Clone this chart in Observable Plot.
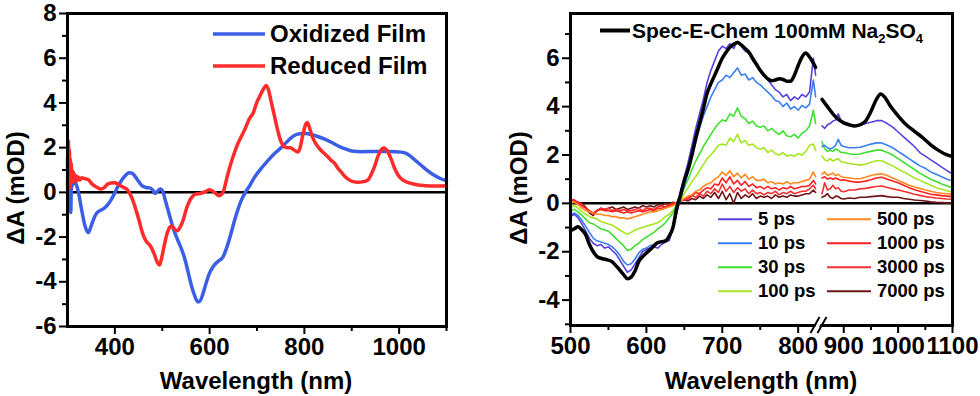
<!DOCTYPE html>
<html><head><meta charset="utf-8">
<script src="https://cdn.jsdelivr.net/npm/d3@7"></script>
<script src="https://cdn.jsdelivr.net/npm/@observablehq/plot@0.6"></script>
<style>
body{margin:0;background:#fff;}
#wrap{position:relative;width:980px;height:396px;overflow:hidden;background:#fff;font-family:"Liberation Sans",Arial,sans-serif;font-weight:bold;color:#000}
.panel{position:absolute;top:0}
.lbl{position:absolute;font-size:24px;font-weight:bold;white-space:nowrap;line-height:1}
.leg{position:absolute;display:flex;align-items:center;white-space:nowrap;font-weight:bold}
.leg svg{display:block}
sub{font-size:13px;vertical-align:-5px;line-height:0}
</style></head>
<body><div id="wrap"></div>
<script>
// ---------------- LEFT PANEL DATA ----------------
const oxWl = [300,302,303,305,306,307,308,311,316,322,330,337,344,350,357,363,370,377,385,391,398,406,413,420,430,437,443,450,457,466,474,480,485,490,496,501,507,515,523,532,540,548,555,562,568,575,580,585,592,600,608,617,628,638,645,652,660,667,677,686,694,708,722,736,751,765,777,790,804,815,828,843,858,873,888,900,920,950,980,1004,1015,1025,1036,1047,1060,1074,1087,1100];
const oxVal = [0.3,1.8,0.5,1.0,-0.5,-0.9,0.2,0.35,0.45,0.1,-0.8,-1.5,-1.8,-1.5,-1.1,-0.9,-0.8,-0.72,-0.55,-0.37,-0.1,0.25,0.5,0.7,0.88,0.85,0.7,0.5,0.3,0.22,0.2,0.1,-0.05,0.05,0.15,0.05,-0.4,-1.0,-1.6,-2.1,-2.5,-3.0,-3.6,-4.2,-4.6,-4.9,-4.85,-4.6,-4.1,-3.6,-3.3,-3.1,-2.9,-2.35,-1.85,-1.3,-0.75,-0.35,0.05,0.35,0.65,1.05,1.4,1.72,2.0,2.3,2.52,2.62,2.63,2.58,2.5,2.38,2.23,2.06,1.93,1.85,1.82,1.83,1.83,1.8,1.74,1.6,1.4,1.2,0.97,0.76,0.62,0.52];
const redWl = [300,301,302,303,304,305,306,307,308,309,310,311,313,315,317,319,322,326,330,335,340,345,350,356,363,370,377,385,392,399,406,413,420,425,430,437,444,451,458,465,475,483,490,494,498,503,510,516,520,526,532,538,544,550,556,563,570,580,590,599,606,613,620,625,630,637,645,652,659,667,675,684,692,700,707,713,719,724,730,737,744,750,757,764,771,778,786,791,797,803,806,810,815,822,830,840,849,857,864,870,878,885,893,903,913,925,934,941,948,955,962,968,975,983,990,997,1005,1014,1025,1040,1055,1075,1100];
const redVal = [1.5,0.3,2.3,0.4,1.9,0.2,1.5,0.4,1.3,0.5,1.0,0.45,0.9,0.5,0.75,0.5,0.7,0.55,0.65,0.62,0.6,0.55,0.42,0.3,0.22,0.15,0.2,0.37,0.42,0.43,0.38,0.28,0.2,0.15,0.0,-0.3,-0.75,-1.25,-1.8,-2.15,-2.4,-2.75,-3.15,-3.25,-3.0,-2.5,-1.85,-1.55,-1.5,-1.65,-1.72,-1.55,-1.25,-0.8,-0.45,-0.2,-0.08,-0.05,0.02,0.12,0.06,-0.05,-0.15,-0.1,0.1,0.7,1.3,1.75,2.15,2.5,2.85,3.3,3.55,4.05,4.35,4.6,4.78,4.6,4.05,3.4,2.75,2.3,2.05,2.0,2.0,1.9,1.8,2.0,2.6,3.05,3.12,2.95,2.6,2.25,2.0,1.78,1.6,1.42,1.3,1.1,0.9,0.72,0.58,0.48,0.45,0.48,0.55,0.8,1.15,1.6,1.9,1.98,1.85,1.5,1.1,0.8,0.6,0.48,0.4,0.33,0.3,0.28,0.3];

// ---------------- RIGHT PANEL DATA ----------------
const delays = ["5 ps","10 ps","30 ps","100 ps","500 ps","1000 ps","3000 ps","7000 ps"];
const delayColors = ["#5b40e0","#3a80f0","#40e030","#a6e620","#ff8a20","#ff2020","#f53030","#701515"];

const wlLeft = [500,505,510,515,520,525,530,535,540,545,
  550,555,560,565,570,575,580,585,590,595,
  600,605,610,615,620,625,630,635,640,645,
  650,655,660,665,670,675,680,685,690,695,
  700,705,710,715,720,725,730,735,740,745,
  750,755,760,765,770,775,780,785,790,795,
  800,805,810,815,820,823];
const wlRight = [860,865,870,875,880,885,890,895,900,910,920,930,940,950,960,970,980,990,1000,1010,1020,1030,1040,1050,1060,1070,1080,1090,1100];

const ta5L = [-0.55,-0.45,-0.6,-0.85,-1.15,-1.45,-1.65,-1.75,-1.7,-1.85,
  -1.8,-1.95,-2.1,-2.35,-2.6,-2.85,-2.75,-2.5,-2.25,-2.0,
  -1.9,-1.85,-1.8,-1.85,-1.7,-1.6,-1.55,-1.05,-0.4,0.5,
  1.1,1.7,2.4,3.1,3.7,4.3,5.0,5.5,5.9,6.3,
  6.5,6.4,6.6,6.4,6.7,6.5,6.3,6.2,5.9,5.7,
  5.5,5.3,5.1,4.9,4.7,4.6,4.4,4.5,4.25,4.4,
  4.3,4.5,4.4,4.6,6.0,5.3];
const ta10L = [-0.5,-0.4,-0.5,-0.7,-0.95,-1.2,-1.45,-1.55,-1.6,-1.65,
  -1.7,-1.8,-1.95,-2.15,-2.4,-2.55,-2.5,-2.3,-2.05,-1.9,
  -1.85,-1.75,-1.7,-1.6,-1.6,-1.55,-1.45,-1.0,-0.4,0.2,
  0.7,1.3,2.0,2.5,3.1,3.6,4.0,4.4,4.7,5.0,
  5.1,5.3,5.2,5.4,5.6,5.3,5.35,5.1,5.2,5.0,
  4.9,4.75,4.6,4.45,4.25,4.2,4.0,4.15,3.9,4.0,
  3.85,4.05,3.95,4.1,5.1,4.4];
const ta30L = [-0.3,-0.25,-0.35,-0.5,-0.65,-0.8,-0.85,-0.95,-1.05,-1.1,
  -1.15,-1.3,-1.45,-1.6,-1.75,-1.95,-1.9,-1.75,-1.65,-1.5,
  -1.4,-1.3,-1.2,-1.05,-0.95,-0.8,-0.6,-0.4,0.0,0.3,
  0.65,1.0,1.4,1.75,2.05,2.35,2.6,2.85,3.1,3.3,
  3.45,3.4,3.7,3.6,3.95,3.6,3.5,3.3,3.4,3.2,
  3.15,3.2,3.0,3.1,2.95,2.85,3.0,2.8,2.75,2.85,
  2.7,2.9,3.0,3.2,3.85,3.3];
const ta100L = [-0.15,-0.1,-0.2,-0.35,-0.45,-0.55,-0.6,-0.65,-0.75,-0.8,
  -0.85,-0.9,-1.0,-1.1,-1.2,-1.28,-1.2,-1.1,-1.05,-1.0,
  -0.95,-0.9,-0.85,-0.8,-0.7,-0.55,-0.45,-0.3,-0.1,0.15,
  0.4,0.65,0.9,1.1,1.35,1.6,1.85,2.0,2.2,2.4,
  2.45,2.4,2.7,2.55,2.85,2.5,2.6,2.4,2.45,2.3,
  2.25,2.3,2.1,2.2,2.05,2.0,2.1,1.95,2.0,1.95,
  2.05,2.0,2.15,2.4,2.45,2.2];
const ta500L = [0.0,0.05,-0.05,-0.2,-0.3,-0.35,-0.4,-0.45,-0.45,-0.5,
  -0.5,-0.55,-0.55,-0.6,-0.6,-0.65,-0.6,-0.55,-0.5,-0.45,
  -0.4,-0.35,-0.35,-0.3,-0.25,-0.2,-0.15,-0.1,0.0,0.1,
  0.2,0.3,0.35,0.5,0.55,0.7,0.8,0.85,1.0,1.1,
  1.3,1.15,1.35,1.1,1.25,1.05,1.2,1.0,1.1,0.95,
  0.95,1.0,0.85,0.9,0.8,0.85,0.8,0.9,0.8,0.85,
  0.85,0.9,0.95,1.0,1.3,1.1];
const ta1000L = [0.1,0.15,0.0,-0.1,-0.2,-0.3,-0.4,-0.3,-0.25,-0.3,
  -0.3,-0.35,-0.3,-0.35,-0.4,-0.35,-0.4,-0.35,-0.3,-0.35,
  -0.3,-0.25,-0.3,-0.2,-0.2,-0.15,-0.1,-0.05,0.0,0.1,
  0.15,0.25,0.3,0.45,0.4,0.55,0.65,0.6,0.8,0.75,
  1.05,0.85,1.1,0.8,0.95,0.75,0.9,0.7,0.8,0.65,
  0.7,0.6,0.7,0.6,0.65,0.55,0.65,0.6,0.7,0.6,
  0.65,0.7,0.7,0.75,0.95,0.8];
const ta3000L = [0.2,0.1,0.05,-0.05,-0.2,-0.35,-0.45,-0.3,-0.2,-0.25,
  -0.2,-0.3,-0.25,-0.3,-0.25,-0.3,-0.3,-0.25,-0.2,-0.3,
  -0.2,-0.2,-0.25,-0.15,-0.1,-0.15,-0.05,0.0,0.05,0.1,
  0.2,0.15,0.35,0.25,0.4,0.3,0.5,0.4,0.6,0.45,
  0.8,0.5,0.7,0.45,0.65,0.5,0.6,0.4,0.55,0.4,
  0.45,0.35,0.45,0.4,0.5,0.35,0.45,0.4,0.5,0.4,
  0.45,0.5,0.5,0.6,0.75,0.6];
const ta7000L = [0.15,0.1,0.05,0.0,-0.15,-0.4,-0.5,-0.3,-0.2,-0.25,
  -0.2,-0.15,-0.25,-0.2,-0.15,-0.25,-0.2,-0.15,-0.2,-0.1,
  -0.15,-0.1,-0.15,-0.05,-0.1,0.0,-0.05,0.05,0.0,0.1,
  0.15,0.1,0.2,0.15,0.3,0.2,0.35,0.25,0.45,0.2,
  0.5,0.15,0.4,0.0,0.45,0.2,0.35,0.25,0.4,0.2,
  0.3,0.25,0.3,0.2,0.35,0.25,0.3,0.25,0.35,0.3,
  0.3,0.35,0.4,0.4,0.55,0.45];

const ta5R = [3.2,3.1,3.25,3.3,3.4,3.45,3.7,3.4,3.3,3.25,3.2,3.22,3.3,3.35,3.42,3.42,3.3,3.15,2.95,2.75,2.55,2.35,2.1,1.95,1.8,1.65,1.5,1.35,1.22];
const ta10R = [2.35,2.4,2.3,2.25,2.3,2.4,2.65,2.4,2.35,2.3,2.3,2.32,2.38,2.45,2.5,2.5,2.4,2.3,2.15,2.0,1.85,1.7,1.55,1.45,1.3,1.2,1.1,1.0,0.92];
const ta30R = [2.55,2.25,2.15,2.2,2.15,2.25,2.2,2.1,2.1,2.05,2.02,2.04,2.1,2.15,2.2,2.2,2.1,2.0,1.85,1.7,1.55,1.4,1.25,1.12,1.0,0.9,0.8,0.72,0.65];
const ta100R = [1.95,1.8,1.75,1.85,1.75,1.8,1.85,1.72,1.7,1.65,1.62,1.58,1.62,1.7,1.76,1.76,1.65,1.55,1.42,1.3,1.18,1.05,0.95,0.85,0.75,0.65,0.58,0.52,0.46];
const ta500R = [1.2,1.3,1.15,1.2,1.25,1.15,1.2,1.1,1.08,1.05,1.02,1.02,1.08,1.15,1.2,1.22,1.15,1.05,0.95,0.85,0.75,0.68,0.62,0.55,0.5,0.45,0.42,0.4,0.38];
const ta1000R = [1.05,1.1,1.0,1.05,1.0,1.05,1.0,0.95,0.98,0.92,0.88,0.88,0.92,0.98,1.05,1.08,1.0,0.92,0.85,0.75,0.65,0.56,0.5,0.44,0.38,0.35,0.32,0.3,0.28];
const ta3000R = [0.4,0.85,0.55,0.6,0.75,0.6,0.65,0.5,0.48,0.55,0.55,0.6,0.62,0.66,0.7,0.72,0.66,0.6,0.55,0.5,0.44,0.38,0.33,0.28,0.25,0.22,0.2,0.18,0.17];
const ta7000R = [0.25,0.3,0.4,0.25,0.2,0.3,0.28,0.2,0.18,0.22,0.2,0.25,0.25,0.28,0.3,0.32,0.28,0.25,0.25,0.2,0.17,0.14,0.12,0.1,0.06,0.04,0.03,0.02,0.0];

const chemWlL = [500,505,510,515,520,525,530,535,540,547,555,562,570,575,580,585,590,595,600,607,615,625,630,635,640,645,650,655,660,665,670,675,680,685,690,695,700,705,710,715,720,725,730,735,740,745,750,755,760,765,770,775,780,785,790,795,800,805,810,815,820,823];
const chemValL = [-1.13,-1.05,-0.97,-1.1,-1.3,-1.7,-2.0,-2.2,-2.27,-2.32,-2.42,-2.65,-2.95,-3.12,-3.05,-2.8,-2.4,-2.2,-2.05,-1.85,-1.62,-1.55,-1.35,-1.0,-0.2,0.35,0.95,1.4,2.0,2.7,3.3,3.9,4.55,4.95,5.3,5.65,6.0,6.25,6.45,6.58,6.65,6.55,6.4,6.25,6.0,5.75,5.5,5.3,5.15,5.07,5.1,5.15,5.12,5.05,5.05,5.3,5.7,6.05,6.22,6.05,5.8,5.62];
const chemWlR = [860,870,880,890,900,910,920,930,940,950,960,968,975,985,1000,1015,1030,1045,1060,1075,1090,1100];
const chemValR = [4.3,4.0,3.7,3.47,3.33,3.25,3.2,3.25,3.4,3.8,4.3,4.52,4.4,4.05,3.62,3.25,2.98,2.72,2.42,2.18,2.0,1.93];

// tick values
const xMajorL = [400,600,800,1000], xMinorL = [500,700,900,1100];
const yMajorL = [-6,-4,-2,0,2,4,6,8], yMinorL = [-5,-3,-1,1,3,5,7];
const xMajorR = [500,600,700,800,900,1000,1100], xMinorR = [550,650,750,950,1050];
const yMajorR = [-4,-2,0,2,4,6], yMinorR = [-5,-3,-1,1,3,5,7];

// ---------------- BUILD ----------------
const FONT = '"Liberation Sans", Arial, sans-serif';
const rows = (wl, v) => wl.map((w, i) => ({wl: w, v: v[i]}));
const fmt = d => String(d);
const baseStyle = {fontFamily: FONT, fontSize: "24px", fontWeight: "bold", color: "#000", background: "transparent", overflow: "visible"};

const axes = (xMaj, xMin, yMaj, yMin) => [
  Plot.axisY({ticks: yMaj, tickSize: 8, tickPadding: 3, strokeWidth: 2, tickFormat: fmt, label: null}),
  Plot.axisY({ticks: yMin, tickSize: 5, strokeWidth: 2, tickFormat: () => "", label: null}),
  Plot.axisX({ticks: xMaj, tickSize: 8, tickPadding: 3, strokeWidth: 2, tickFormat: fmt, label: null}),
  Plot.axisX({ticks: xMin, tickSize: 5, strokeWidth: 2, tickFormat: () => "", label: null})
];

const OX = "#3a5fe6", RED = "#ff2a2a";
const leftPlot = Plot.plot({
  width: 490, height: 396, marginLeft: 67, marginRight: 44, marginTop: 13, marginBottom: 70,
  style: baseStyle,
  x: {domain: [300, 1100]},
  y: {domain: [-6, 8]},
  marks: [
    Plot.ruleY([0], {stroke: "#000", strokeWidth: 2.5}),
    Plot.line(rows(oxWl, oxVal), {x: "wl", y: "v", stroke: OX, strokeWidth: 3.5, curve: "monotone-x"}),
    Plot.line(rows(redWl, redVal), {x: "wl", y: "v", stroke: RED, strokeWidth: 3.5, curve: "monotone-x"}),
    ...axes(xMajorL, xMinorL, yMajorL, yMinorL),
    Plot.frame({stroke: "#000", strokeWidth: 3})
  ]
});

const leftSets = [ta5L, ta10L, ta30L, ta100L, ta500L, ta1000L, ta3000L, ta7000L];
const rightSets = [ta5R, ta10R, ta30R, ta100R, ta500R, ta1000R, ta3000R, ta7000R];
const taMarks = [];
for (let i = delays.length - 1; i >= 0; i--) {
  taMarks.push(Plot.line(rows(wlLeft, leftSets[i]), {x: "wl", y: "v", stroke: delayColors[i], strokeWidth: 1.6}));
  taMarks.push(Plot.line(rows(wlRight, rightSets[i]), {x: "wl", y: "v", stroke: delayColors[i], strokeWidth: 1.6}));
}

const rightPlot = Plot.plot({
  width: 490, height: 396, marginLeft: 80, marginRight: 28, marginTop: 13, marginBottom: 71,
  style: baseStyle,
  x: {type: "linear", domain: [500, 823.5, 860, 1100], range: [80, 325.5, 331.5, 462]},
  y: {domain: [-5.05, 7.85]},
  marks: [
    Plot.ruleY([0], {stroke: "#000", strokeWidth: 2.5}),
    ...taMarks,
    Plot.line(rows(chemWlL, chemValL), {x: "wl", y: "v", stroke: "#000", strokeWidth: 3.5, curve: "monotone-x"}),
    Plot.line(rows(chemWlR, chemValR), {x: "wl", y: "v", stroke: "#000", strokeWidth: 3.5, curve: "monotone-x"}),
    ...axes(xMajorR, xMinorR, yMajorR, yMinorR),
    Plot.frame({stroke: "#000", strokeWidth: 3})
  ]
});

const wrap = document.getElementById("wrap");
const pl = document.createElement("div"); pl.className = "panel"; pl.style.left = "0px"; pl.appendChild(leftPlot); wrap.appendChild(pl);
const pr = document.createElement("div"); pr.className = "panel"; pr.style.left = "490px"; pr.appendChild(rightPlot); wrap.appendChild(pr);

// axis break marks on the right panel
{
  const xs = rightPlot.scale("x");
  const bx = (xs.apply(823.5) + xs.apply(860)) / 2;
  const by = 396 - 71;
  const g = d3.select(rightPlot).append("g");
  g.append("polygon").attr("points", `${bx-6},${by+8} ${bx+1},${by-8} ${bx+5},${by-8} ${bx-2},${by+8}`).attr("fill", "#fff");
  g.append("line").attr("x1", bx-8).attr("y1", by+8).attr("x2", bx+1).attr("y2", by-8).attr("stroke", "#000").attr("stroke-width", 2);
  g.append("line").attr("x1", bx-1).attr("y1", by+8).attr("x2", bx+8).attr("y2", by-8).attr("stroke", "#000").attr("stroke-width", 2);
}

// axis titles
function label(text, cx, cy, rotate) {
  const d = document.createElement("div");
  d.className = "lbl";
  d.textContent = text;
  d.style.left = cx + "px"; d.style.top = cy + "px";
  d.style.transform = "translate(-50%,-50%)" + (rotate ? " rotate(-90deg)" : "");
  wrap.appendChild(d);
}
label("Wavelength (nm)", 256, 381, false);
label("Wavelength (nm)", 761, 381, false);
label("ΔA (mOD)", 16, 188, true);
label("ΔA (mOD)", 519, 188, true);

// legends
function legRow(x, cy, len, color, sw, html, size, gap) {
  const d = document.createElement("div");
  d.className = "leg";
  d.style.left = x + "px"; d.style.top = (cy - size / 2 - 1) + "px"; d.style.height = size + "px";
  d.style.fontSize = size + "px"; d.style.lineHeight = size + "px";
  d.innerHTML = `<svg width="${len}" height="${size}"><line x1="0" x2="${len}" y1="${size/2}" y2="${size/2}" stroke="${color}" stroke-width="${sw}"/></svg><span style="margin-left:${gap}px">${html}</span>`;
  wrap.appendChild(d);
}
legRow(213, 35, 52, OX, 3.5, "Oxidized Film", 24, 5);
legRow(213, 67, 52, RED, 3.5, "Reduced Film", 24, 5);
legRow(600, 31, 30, "#000", 4, "Spec-E-Chem 100mM Na<sub>2</sub>SO<sub>4</sub>", 21, 2);
const rowsY = [220, 244, 268, 292];
delays.forEach((name, i) => {
  const col = i < 4 ? 0 : 1;
  const r = i % 4;
  if (col === 0) legRow(718, rowsY[r], 34, delayColors[i], 1.8, name, 18.5, 6);
  else legRow(827, rowsY[r], 44, delayColors[i], 1.8, name, 18.5, 6);
});
</script>
</body></html>
